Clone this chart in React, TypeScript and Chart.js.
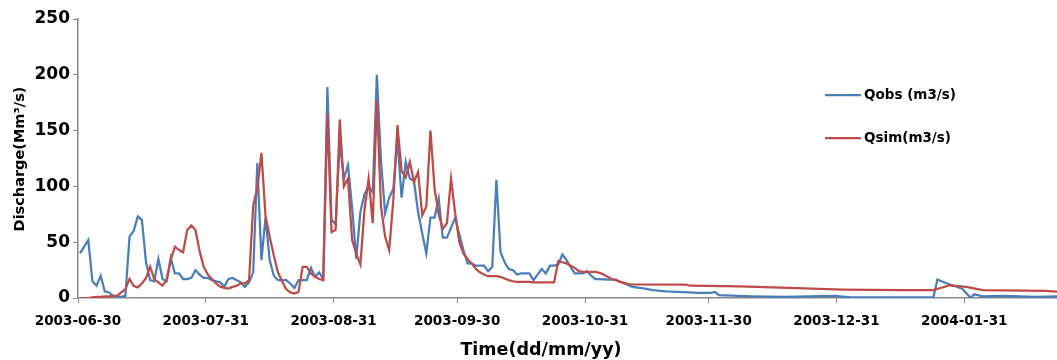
import React, { useEffect, useRef } from 'react';
import { Chart, registerables } from 'chart.js';

Chart.register(...registerables);

// Day offsets are counted from 2003-06-30
const tickDays = [0, 31, 62, 92, 123, 153, 184, 215];
const tickLabels = ['2003-06-30', '2003-07-31', '2003-08-31', '2003-09-30', '2003-10-31', '2003-11-30', '2003-12-31', '2004-01-31'];

// Qobs daily values, day 0 .. 125
const obsDaily = [
  40, 46, 52, 15, 11, 20, 6, 5, 2, 1,
  1, 2, 55, 60, 73, 70, 32, 16, 15, 35,
  17, 15, 36, 22, 22, 17, 17, 18, 25, 21,
  18, 18, 16, 15, 14, 10, 17, 18, 16, 14,
  10, 14, 23, 121, 34, 72, 34, 20, 16, 16,
  16, 13, 9, 16, 16, 16, 27, 19, 23, 17,
  189, 70, 66, 140, 107, 119, 81, 35, 77, 93,
  100, 95, 200, 123, 76, 90, 98, 143, 90, 122,
  107, 105, 77, 58, 40, 72, 72, 89, 54, 54,
  63, 72, 57, 43, 31, 31, 29, 29, 29, 24,
  28, 106, 41, 32, 26, 25, 21, 22, 22, 22,
  16, 21, 26, 22, 29, 29, 30, 39, 34, 28,
  22, 22, 22, 24, 20, 17,
];
// Qobs later readings (day, value)
const obsTailDays = [126, 128, 130, 132, 134, 137, 139, 142, 145, 150, 153, 154, 155, 163, 171, 183, 187, 207, 208, 210, 214, 216, 217, 219, 224, 232, 238];
const obsTailValues = [17, 16.5, 16.5, 13, 10, 8.4, 7, 6, 5.4, 4.5, 4.5, 5.4, 2.5, 1.5, 1, 1.8, 0.5, 0.5, 16.5, 13.4, 8.4, 0.5, 3.3, 1.5, 1.8, 1, 1.5];

// Qsim daily values, day 0 .. 125
const simDaily = [
  0, 0, 0, 0.5, 1, 1, 1.5, 1.5, 2, 2,
  5, 8, 17, 11, 9.5, 13, 18, 28, 17, 14,
  11, 16, 34, 46, 43, 41, 61, 65, 61, 42,
  28, 21, 17, 13, 10, 9, 8.5, 10, 11, 13,
  13, 16, 83, 98, 130, 73, 55, 38, 23, 15,
  8, 5, 4, 5.5, 28, 28, 22, 19, 17, 16,
  165, 59, 61, 160, 100, 107, 52, 40, 30, 79,
  107, 67, 177, 82, 55, 43, 88, 155, 114, 108,
  122, 104, 113, 74, 82, 150, 98, 75, 62, 67,
  107, 76, 50, 40, 35, 31, 26, 23, 21, 19.5,
  19.5, 19.5, 19, 17.5, 16, 15, 14.5, 14.5, 14.5, 14.5,
  14, 14, 14, 14, 14, 14, 33, 32, 31, 29,
  27, 24, 23.5, 23.3, 23.3, 23.3,
];
// Qsim later readings (day, value)
const simTailDays = [126, 127, 128, 129, 130, 131, 132, 133, 134, 147, 148, 160, 172, 185, 199, 207, 211, 215, 219, 234, 238];
const simTailValues = [22.5, 21, 19, 17, 16, 14.3, 13.5, 12.5, 12.3, 12, 11, 10.5, 9, 7.5, 7, 7, 11.4, 10, 7, 6.3, 5.5];

const BLUE = '#4A7EBB';
const RED = '#BE4B48';
const AXIS = '#868686';
const FONT = 'DejaVu Sans';

// each daily value sits in the middle of its day
function toPoints(daily: number[], tailDays: number[], tailValues: number[]) {
  const pts = daily.map((v, i) => ({ x: i + 0.5, y: v }));
  tailDays.forEach((d, i) => pts.push({ x: d + 0.5, y: tailValues[i] }));
  return pts;
}

const overlay = {
  id: 'overlay',
  afterDraw(chart: any) {
    const ctx = chart.ctx as CanvasRenderingContext2D;
    ctx.save();
    // legend
    ctx.lineWidth = 2.25;
    ctx.strokeStyle = BLUE;
    ctx.beginPath();
    ctx.moveTo(825, 95);
    ctx.lineTo(861, 95);
    ctx.stroke();
    ctx.strokeStyle = RED;
    ctx.beginPath();
    ctx.moveTo(825, 138);
    ctx.lineTo(861, 138);
    ctx.stroke();
    ctx.fillStyle = '#000';
    ctx.textBaseline = 'middle';
    ctx.textAlign = 'left';
    ctx.font = `bold 13.5px "${FONT}"`;
    ctx.fillText(chart.data.datasets[0].label, 864, 95);
    ctx.fillText(chart.data.datasets[1].label, 864, 138);
    // axis titles
    ctx.textAlign = 'center';
    ctx.font = `bold 17.5px "${FONT}"`;
    ctx.fillText('Time(dd/mm/yy)', 541, 350);
    ctx.font = `bold 14.5px "${FONT}"`;
    ctx.translate(20, 159);
    ctx.rotate(-Math.PI / 2);
    ctx.fillText('Discharge(Mm³/s)', 0, 0);
    ctx.restore();
  },
};

export default function App() {
  const ref = useRef<HTMLCanvasElement>(null);
  useEffect(() => {
    if (!ref.current) return;
    const chart = new Chart(ref.current, {
      type: 'line',
      data: {
        datasets: [
          {
            label: 'Qobs (m3/s)',
            data: toPoints(obsDaily, obsTailDays, obsTailValues),
            borderColor: BLUE,
            borderWidth: 2.25,
            pointRadius: 0,
            tension: 0,
            order: 1,
          },
          {
            label: 'Qsim(m3/s)',
            data: toPoints(simDaily, simTailDays, simTailValues),
            borderColor: RED,
            borderWidth: 2.25,
            pointRadius: 0,
            tension: 0,
            order: 0,
          },
        ],
      },
      options: {
        responsive: false,
        animation: false,
        layout: { padding: { top: 19, right: 0, left: 0, bottom: 0 } },
        plugins: { legend: { display: false }, tooltip: { enabled: false } },
        scales: {
          x: {
            type: 'linear',
            min: 0,
            max: 237.5,
            afterBuildTicks: (s: any) => {
              s.ticks = tickDays.map((v) => ({ value: v }));
            },
            afterFit: (s: any) => {
              s.height = 62;
            },
            ticks: {
              autoSkip: false,
              maxRotation: 0,
              minRotation: 0,
              color: '#000',
              padding: 10,
              font: { family: FONT, weight: 'bold', size: 13.5 },
              callback: (v: any) => {
                const i = tickDays.indexOf(Number(v));
                return i >= 0 ? tickLabels[i] : '';
              },
            },
            grid: { drawOnChartArea: false, drawTicks: true, tickLength: 5, color: AXIS },
            border: { color: AXIS, width: 1.5 },
          },
          y: {
            min: 0,
            max: 250,
            afterFit: (s: any) => {
              s.width = 78;
            },
            ticks: {
              stepSize: 50,
              color: '#000',
              padding: 3,
              font: { family: FONT, weight: 'bold', size: 17 },
            },
            grid: { drawOnChartArea: false, drawTicks: true, tickLength: 5, color: AXIS },
            border: { color: AXIS, width: 1.5 },
          },
        },
      },
      plugins: [overlay],
    });
    return () => chart.destroy();
  }, []);
  return (
    <div style={{ position: 'absolute', left: 0, top: 0, width: 1057, height: 360, background: '#fff' }}>
      <canvas ref={ref} width={1057} height={360} style={{ width: '1057px', height: '360px', display: 'block' }} />
    </div>
  );
}
